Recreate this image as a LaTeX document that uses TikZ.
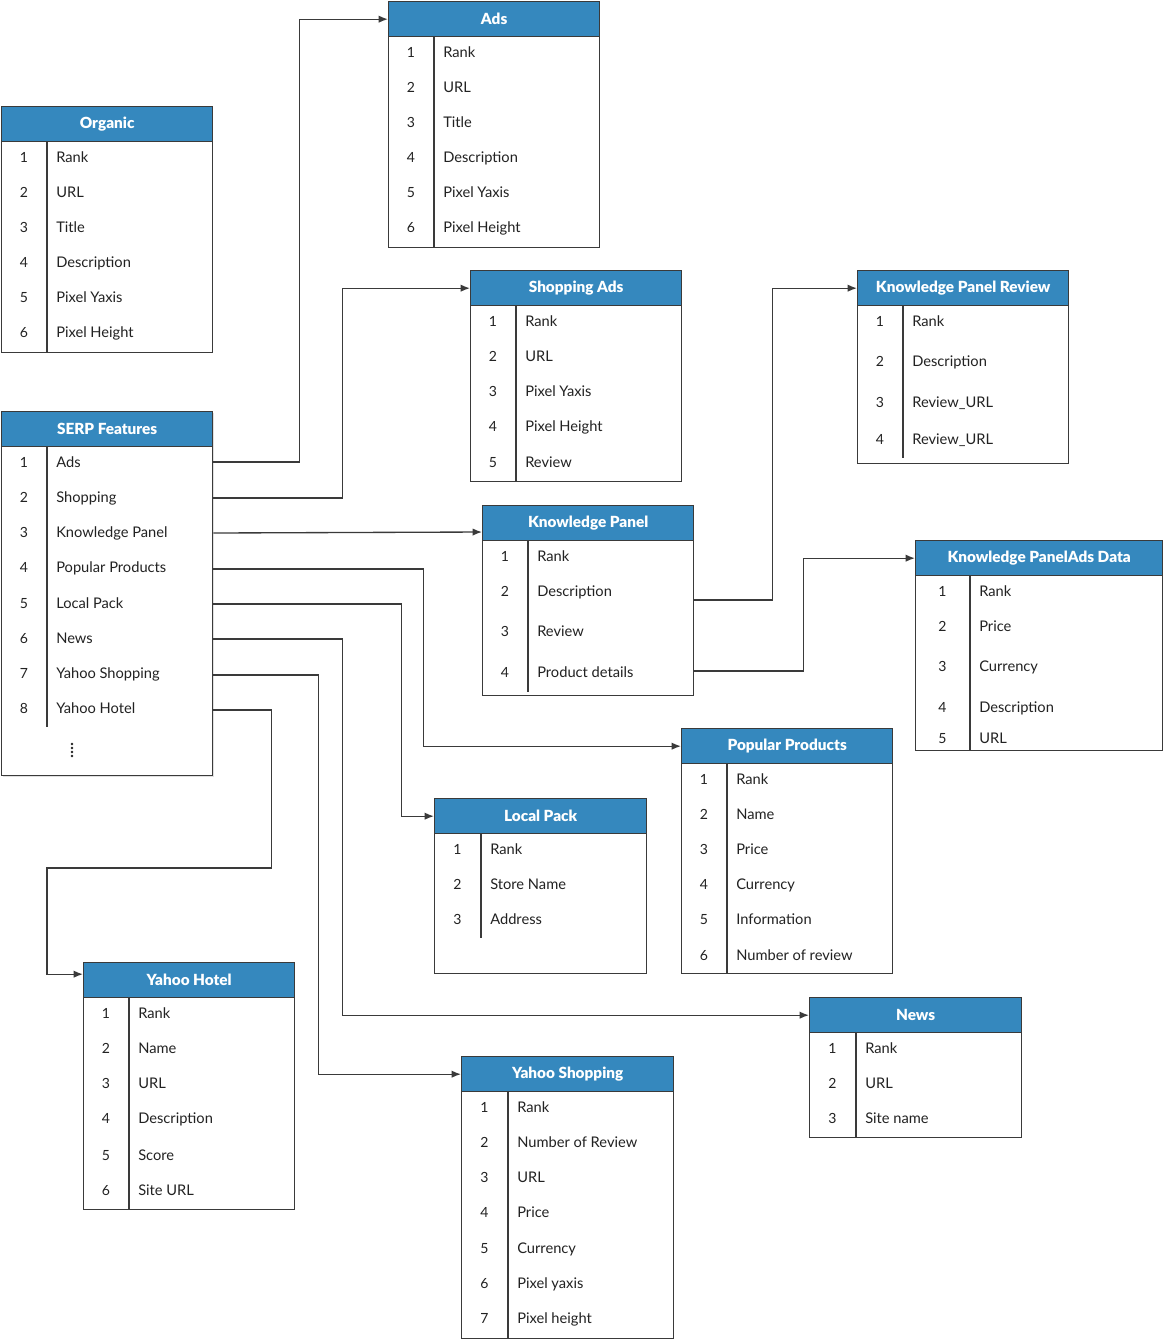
\documentclass[tikz,border=0pt]{standalone}
\usepackage{fontspec}
\setmainfont{Lato}
\IfFontExistsTF{Lato Black}{\newfontfamily\headfont{Lato Black}}{\newcommand{\headfont}{\bfseries}}
\usetikzlibrary{arrows.meta,calc}
\definecolor{hblue}{HTML}{3588BE}
\definecolor{bord}{HTML}{3A3A3A}
\definecolor{txtc}{HTML}{222222}
\tikzset{x=0.75pt,y=-0.75pt,
 tabbox/.style={draw=bord,line width=1pt,fill=white,inner sep=0pt},
 headbox/.style={draw=bord,line width=1pt,fill=hblue,text=white,font=\headfont\fontsize{11.5}{13}\selectfont,inner sep=0pt},
 divline/.style={draw=bord,line width=1pt},
 numtxt/.style={text=txtc,font=\fontsize{10.5}{12}\selectfont,inner sep=0pt,anchor=base},
 rowtxt/.style={text=txtc,font=\fontsize{11}{12}\selectfont,inner sep=0pt,anchor=base west},
 conn/.style={draw=bord,line width=1pt,-{Latex[length=7pt,width=5.5pt]}},
}
\newcommand{\mktable}[9]{%
 \pgfmathsetmacro{\tabw}{(#4-#2)*0.75}%
 \pgfmathsetmacro{\tabh}{(#5-#3)*0.75}%
 \pgfmathsetmacro{\numx}{(#2+#6)/2}%
 \node[tabbox,anchor=north west,minimum width=\tabw pt,minimum height=\tabh pt] (#1) at (#2,#3) {};
 \node[headbox,anchor=north west,minimum width=\tabw pt,minimum height=26.25pt] (#1h) at (#2,#3) {#8};
 \draw[divline] (#6,#3+35) -- (#6,#7);
 \foreach \i/\yy/\rowlabel in {#9} {
   \node[numtxt] (#1-n\i) at (\numx,\yy+5) {\i};
   \node[rowtxt] (#1-r\i) at (#6+9,\yy+5) {\rowlabel};
 }%
}
\begin{document}
\begin{tikzpicture}
\useasboundingbox (0,0) rectangle (1164,1340);
\fill[black!12] (3,413) rectangle (214,777);
\mktable{org}{1}{106}{212}{352}{47}{352}{Organic}{1/157/Rank,2/192/URL,3/227/Title,4/262/Description,5/297/Pixel Yaxis,6/332/Pixel Height}
\mktable{serp}{1}{411}{212}{775}{47}{727}{SERP Features}{1/462/Ads,2/497/Shopping,3/532/Knowledge Panel,4/567/Popular Products,5/603/Local Pack,6/638/News,7/673/Yahoo Shopping,8/708/Yahoo Hotel}
\foreach \dy in {744,748,752,756} {\fill[txtc] (72,\dy) circle (1.3);}
\mktable{ads}{388}{1}{599}{247}{434}{247}{Ads}{1/52/Rank,2/87/URL,3/122/Title,4/157/Description,5/192/Pixel Yaxis,6/227/Pixel Height}
\mktable{shop}{470}{270}{681}{481}{516}{481}{Shopping Ads}{1/321/Rank,2/356/URL,3/391/Pixel Yaxis,4/426/Pixel Height,5/462/Review}
\mktable{kp}{482}{505}{693}{695}{528}{692}{Knowledge Panel}{1/556/Rank,2/591/Description,3/631/Review,4/672/Product details}
\mktable{kpr}{857}{270}{1068}{463}{903}{458}{Knowledge Panel Review}{1/321/Rank,2/361/Description,3/402/Review\_URL,4/439/Review\_URL}
\mktable{kpad}{915}{540}{1162}{750}{970}{750}{Knowledge PanelAds Data}{1/591/Rank,2/626/Price,3/666/Currency,4/707/Description,5/738/URL}
\mktable{pp}{681}{728}{892}{973}{727}{973}{Popular Products}{1/779/Rank,2/814/Name,3/849/Price,4/884/Currency,5/919/Information,6/955/Number of review}
\mktable{lp}{434}{798}{646}{973}{481}{938}{Local Pack}{1/849/Rank,2/884/Store Name,3/919/Address}
\mktable{yh}{83}{962}{294}{1209}{129}{1209}{Yahoo Hotel}{1/1013/Rank,2/1048/Name,3/1083/URL,4/1118/Description,5/1155/Score,6/1190/Site URL}
\mktable{ys}{461}{1056}{673}{1338}{508}{1338}{Yahoo Shopping}{1/1107/Rank,2/1142/Number of Review,3/1177/URL,4/1212/Price,5/1248/Currency,6/1283/Pixel yaxis,7/1318/Pixel height}
\mktable{news}{809}{997}{1021}{1137}{856}{1137}{News}{1/1048/Rank,2/1083/URL,3/1118/Site name}
% connectors
\coordinate (yhbend) at (47,868);
\draw[conn] ($(serp.east |- serp-n1.base)+(0,-5)$) -- ++(86,0) |- (adsh.west);
\draw[conn] ($(serp.east |- serp-n2.base)+(0,-4)$) -- ++(129,0) |- (shoph.west);
\draw[conn] ($(serp.east |- serp-n3.base)+(0,-4)$) -- ($(kp.west |- serp-n3.base)+(0,-5)$);
\draw[conn] ($(serp.east |- serp-n4.base)+(0,-3)$) -- ++(210,0) |- (pph.west);
\draw[conn] ($(serp.east |- serp-n5.base)+(0,-4)$) -- ++(188,0) |- (lph.west);
\draw[conn] ($(serp.east |- serp-n6.base)+(0,-4)$) -- ++(129,0) |- (newsh.west);
\draw[conn] ($(serp.east |- serp-n7.base)+(0,-3)$) -- ++(105,0) |- (ysh.west);
\draw[conn] ($(serp.east |- serp-n8.base)+(0,-3)$) -- ++(58,0) |- (yhbend) |- ($(yhh.west)+(0,-6)$);
\draw[conn] ($(kp.east |- kp-n2.base)+(0,4)$) -- ++(78,0) |- (kprh.west);
\draw[conn] ($(kp.east |- kp-n4.base)+(0,-6)$) -- ++(109,0) |- (kpadh.west);
\end{tikzpicture}
\end{document}
